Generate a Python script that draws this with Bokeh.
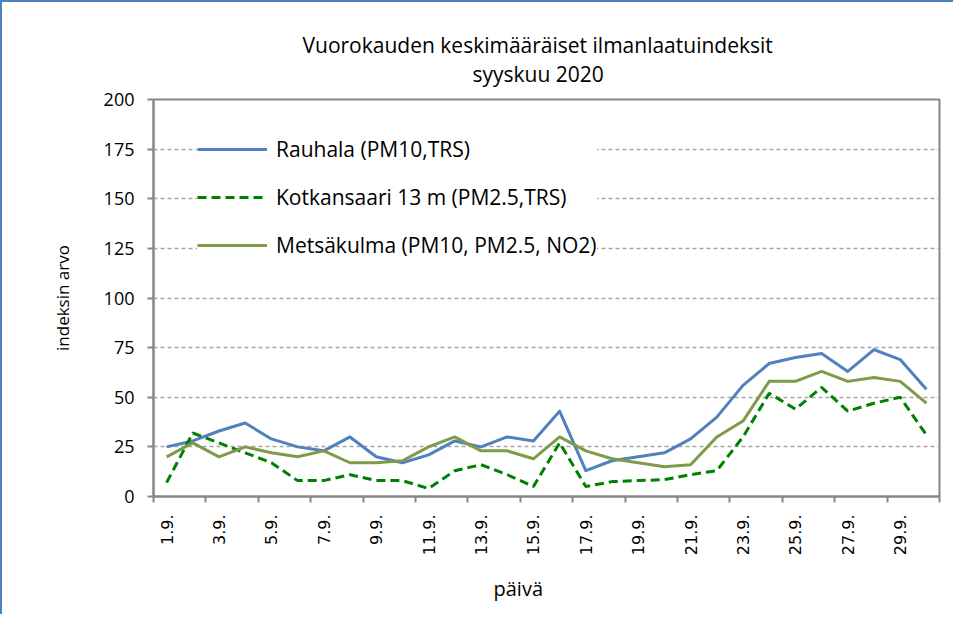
import math
from bokeh.plotting import figure
from bokeh.models import Range1d, FixedTicker, Legend, LegendItem, Title
from bokeh.embed import file_html
from bokeh.resources import INLINE

days = list(range(1, 31))
rauhala = [25, 28, 33, 37, 29, 25, 23, 30, 20, 17, 21, 28, 25, 30, 28, 43, 13, 18, 20, 22,
           29, 40, 56, 67, 70, 72, 63, 74, 69, 54]
kotkansaari = [7, 32, 27, 22, 17, 8, 8, 11, 8, 8, 4, 13, 16, 11, 5, 27, 5, 7.5, 8, 8.5,
               11, 13, 30, 52, 44, 55, 43, 47, 50, 31]
metsakulma = [20, 27, 20, 25, 22, 20, 23, 17, 17, 18, 25, 30, 23, 23, 19, 30, 23, 19, 17, 15,
              16, 30, 38, 58, 58, 63, 58, 60, 58, 47]
label_days = [1, 3, 5, 7, 9, 11, 13, 15, 17, 19, 21, 23, 25, 27, 29]
tick_labels = ["1.9.", "3.9.", "5.9.", "7.9.", "9.9.", "11.9.", "13.9.", "15.9.", "17.9.",
               "19.9.", "21.9.", "23.9.", "25.9.", "27.9.", "29.9."]
y_ticks = [0, 25, 50, 75, 100, 125, 150, 175, 200]

series_names = ["Rauhala (PM10,TRS)", "Kotkansaari 13 m (PM2.5,TRS)", "Metsäkulma (PM10, PM2.5, NO2)"]

FONT = "Open Sans"
AXIS_GRAY = "#868686"

p = figure(width=953, height=614, output_backend="svg", toolbar_location=None,
           x_range=Range1d(0.5, 30.5), y_range=Range1d(0, 200),
           min_border_left=151, min_border_right=16, min_border_top=97, min_border_bottom=120,
           background_fill_color="white", border_fill_color="white")
p.styles = {"border-left": "2px solid #4F81BD", "border-top": "2px solid #4F81BD"}

p.title.text = ""
p.add_layout(Title(text="syyskuu 2020", align="left", text_font=FONT, text_font_size="21px",
                   text_font_style="normal", text_color="#000000", offset=319, standoff=23), "above")
p.add_layout(Title(text="Vuorokauden keskimääräiset ilmanlaatuindeksit", align="left",
                   text_font=FONT, text_font_size="21px", text_font_style="normal",
                   text_color="#000000", offset=149, standoff=-24), "above")
p.add_layout(Title(text="päivä", align="left", text_font=FONT, text_font_size="20px",
                   text_font_style="normal", text_color="#000000", offset=340, standoff=29), "below")

p.outline_line_color = AXIS_GRAY
p.outline_line_width = 2

p.xgrid.visible = False
p.ygrid.grid_line_color = "#a6a6a6"
p.ygrid.grid_line_dash = "4 3"
p.ygrid.grid_line_width = 1.5

p.yaxis.ticker = FixedTicker(ticks=y_ticks)
p.yaxis.axis_label = "indeksin arvo"
p.yaxis.axis_label_text_font = FONT
p.yaxis.axis_label_text_font_size = "17px"
p.yaxis.axis_label_text_font_style = "normal"
p.yaxis.axis_label_standoff = 27
p.yaxis.major_label_text_font = FONT
p.yaxis.major_label_text_font_size = "18px"
p.yaxis.major_label_standoff = 13
p.yaxis.minor_tick_line_color = None

boundaries = [d - 0.5 for d in label_days] + [days[-1] + 0.5]
p.xaxis.ticker = FixedTicker(ticks=label_days, minor_ticks=boundaries)
p.xaxis.major_label_overrides = dict(zip(label_days, tick_labels))
p.xaxis.major_label_orientation = math.pi / 2
p.xaxis.major_label_text_font = "DejaVu Sans"
p.xaxis.major_label_text_font_size = "16px"
p.xaxis.major_label_standoff = 12
p.xaxis.major_tick_line_color = None
p.xaxis.minor_tick_in = 0
p.xaxis.minor_tick_out = 6
p.xaxis.minor_tick_line_color = AXIS_GRAY
p.xaxis.minor_tick_line_width = 2

for ax in (p.xaxis, p.yaxis):
    ax.axis_line_color = AXIS_GRAY
    ax.axis_line_width = 2
    ax.major_label_text_color = "#000000"
    ax.axis_label_text_color = "#000000"
p.yaxis.major_tick_line_color = AXIS_GRAY
p.yaxis.major_tick_line_width = 2
p.yaxis.major_tick_in = 0
p.yaxis.major_tick_out = 6

r1 = p.line(days, rauhala, line_color="#4F81BD", line_width=3, line_join="round")
r2 = p.line(days, kotkansaari, line_color="#008000", line_width=3, line_dash="9 5")
r3 = p.line(days, metsakulma, line_color="#7F9A48", line_width=3, line_join="round")

legend = Legend(items=[LegendItem(label=series_names[0], renderers=[r1]),
                       LegendItem(label=series_names[1], renderers=[r2]),
                       LegendItem(label=series_names[2], renderers=[r3])],
                location=(44, 237), glyph_width=70, glyph_height=24, label_height=24,
                spacing=20, padding=12, label_standoff=9, margin=0,
                background_fill_color="white", background_fill_alpha=1.0,
                border_line_color=None, label_text_font=FONT, label_text_font_size="21px",
                label_text_color="#000000")
p.add_layout(legend, "center")

open("out.html", "w").write(file_html(p, INLINE))
